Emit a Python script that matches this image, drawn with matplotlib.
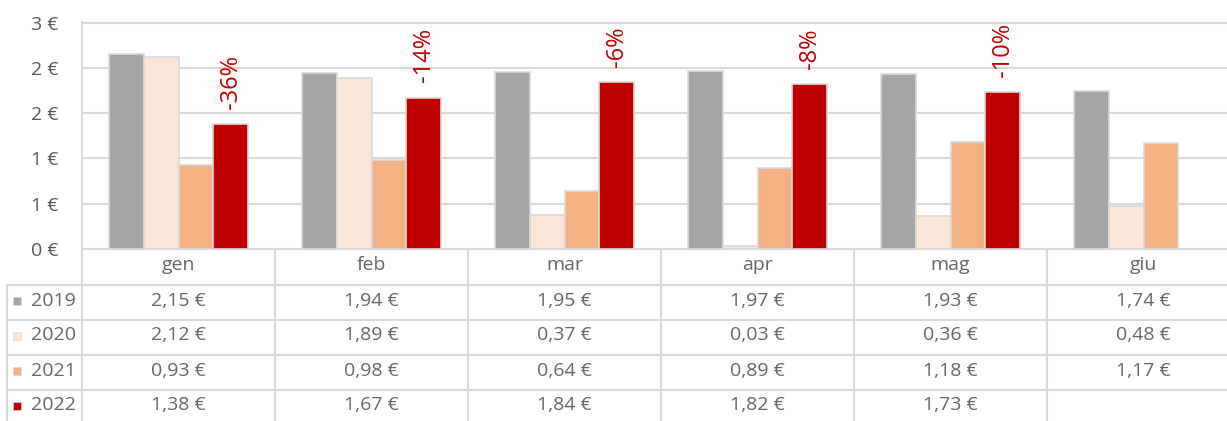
"""Monthly average price per year, bar chart with an Excel style data table below."""

import numpy as np
import matplotlib.pyplot as plt
from matplotlib.patches import Rectangle
from matplotlib.ticker import FuncFormatter
from matplotlib.transforms import blended_transform_factory

plt.rcParams["font.family"] = ["Open Sans", "DejaVu Sans"]

# Data
months = ["gen", "feb", "mar", "apr", "mag", "giu"]
years = ["2019", "2020", "2021", "2022"]
prices_2019 = [2.15, 1.94, 1.95, 1.97, 1.93, 1.74]
prices_2020 = [2.12, 1.89, 0.37, 0.03, 0.36, 0.48]
prices_2021 = [0.93, 0.98, 0.64, 0.89, 1.18, 1.17]
prices_2022 = [1.38, 1.67, 1.84, 1.82, 1.73, np.nan]
change_labels = ["-36%", "-14%", "-6%", "-8%", "-10%"]

series = [prices_2019, prices_2020, prices_2021, prices_2022]
colors = ["#a5a5a5", "#fbe5d6", "#f4b183", "#c00000"]
grid_color = "#d9d9d9"
text_color = "#595959"
table_text = "#666666"

W, H = 1227, 421
fig = plt.figure(figsize=(W / 100, H / 100), dpi=100)

# plot area in pixels: left 82, right 1240 (cut off by the image), top 22.5, bottom 249
left, right, top, bottom = 82, 1240, 22.5, 249
ax = fig.add_axes([left / W, 1 - bottom / H, (right - left) / W, (bottom - top) / H])

x = np.arange(len(months))
width = 0.18
offsets = [-1.5, -0.5, 0.5, 1.5]

for values, color, off in zip(series, colors, offsets):
    vals = np.array(values)
    ok = ~np.isnan(vals)
    ax.bar(x[ok] + off * width, vals[ok], width, color=color,
           edgecolor=grid_color, linewidth=1.2, zorder=3)

# percentage change labels above the 2022 bars
for i, label in enumerate(change_labels):
    ax.annotate(label, (x[i] + offsets[3] * width, prices_2022[i]),
                xytext=(0, 11), textcoords="offset points",
                rotation=90, ha="center", va="bottom",
                color="#c00000", fontsize=17, zorder=4)

ax.set_xlim(-0.5, 5.5)
ax.set_ylim(0, 2.5)
ax.set_yticks(np.arange(0, 2.51, 0.5))
ax.yaxis.set_major_formatter(FuncFormatter(lambda v, p: f"{int(np.floor(v + 0.5))} €"))
ax.tick_params(axis="y", length=0, pad=17, labelsize=14, labelcolor=text_color)
ax.set_xticks([])
ax.yaxis.grid(True, color=grid_color, linewidth=1.5, zorder=0)
for spine in ax.spines.values():
    spine.set_color(grid_color)
    spine.set_linewidth(1.5)

# data table below the plot: x in data units, y in figure pixels from the top
tr = blended_transform_factory(ax.transData, fig.transFigure)
px = 193.0  # pixels per category


def fy(p):
    return 1 - p / H


def data_x(pix):
    return -0.5 + (pix - left) / px


row_lines = [285, 320, 355, 390, 425]
table_left = data_x(7)
line_kw = dict(color=grid_color, linewidth=1.5, transform=tr, clip_on=False)

for y in row_lines:
    fig.add_artist(plt.Line2D([table_left, 5.6], [fy(y), fy(y)], **line_kw))
fig.add_artist(plt.Line2D([table_left, table_left], [fy(285), fy(430)], **line_kw))
for b in np.arange(-0.5, 5.6, 1.0):
    fig.add_artist(plt.Line2D([b, b], [fy(bottom), fy(430)], **line_kw))

# header row with month names
for i, m in enumerate(months):
    fig.text(x[i], fy((bottom + 285) / 2 - 2), m, transform=tr, ha="center",
             va="center", fontsize=14, color=table_text)

# one row per year
for r, (year, values, color) in enumerate(zip(years, series, colors)):
    yc = fy((row_lines[r] + row_lines[r + 1]) / 2 - 2)
    fig.add_artist(Rectangle((13 / W, yc - 4 / H), 8 / W, 8 / H,
                             facecolor=color, edgecolor=grid_color,
                             linewidth=0.5, transform=fig.transFigure))
    fig.text(31 / W, yc, year, ha="left", va="center", fontsize=14,
             color=table_text)
    for i, v in enumerate(values):
        if np.isnan(v):
            continue
        fig.text(x[i], yc, f"{v:.2f} €".replace(".", ","), transform=tr,
                 ha="center", va="center", fontsize=14, color=table_text)

fig.savefig("out.png", dpi=100)
